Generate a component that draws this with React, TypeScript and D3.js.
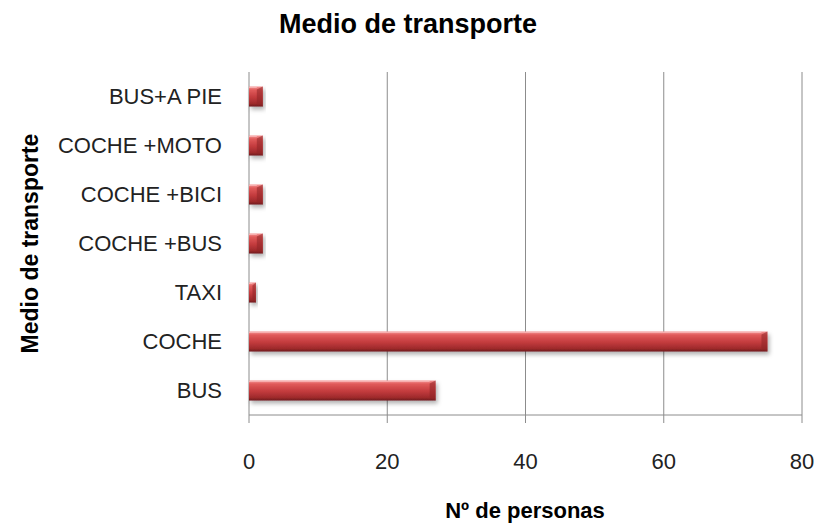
import * as d3 from "d3";

// categories top to bottom, as in the chart
const categories = ["BUS+A PIE", "COCHE +MOTO", "COCHE +BICI", "COCHE +BUS", "TAXI", "COCHE", "BUS"];
const personas = [2, 2, 2, 2, 1, 75, 27];
const xTicks = [0, 20, 40, 60, 80];

const W = 817;
const H = 525;
const margin = { top: 72, right: 15, bottom: 110, left: 249 };
const font = "'Liberation Sans', Arial, sans-serif";

const App = () => {
    const innerW = W - margin.left - margin.right;
    const innerH = H - margin.top - margin.bottom;

    const x = d3.scaleLinear().domain([0, 80]).range([0, innerW]);
    const y = d3
        .scaleBand()
        .domain(categories)
        .range([0, innerH])
        .paddingInner(0.59)
        .paddingOuter(0.295);

    const bh = y.bandwidth();

    return (
        <svg width={W} height={H} style={{ position: "absolute", left: 0, top: 0, background: "#fff" }}>
            <defs>
                <linearGradient id="barGrad" x1="0" y1="0" x2="0" y2="1">
                    <stop offset="0" stopColor="#f49a9a" />
                    <stop offset="0.18" stopColor="#e05a5a" />
                    <stop offset="0.55" stopColor="#c23a3c" />
                    <stop offset="0.85" stopColor="#9e2a2c" />
                    <stop offset="1" stopColor="#6e1a1b" />
                </linearGradient>
                <filter id="shadow" x="-10%" y="-30%" width="130%" height="190%">
                    <feDropShadow dx="2" dy="3" stdDeviation="2" floodColor="#000" floodOpacity="0.3" />
                </filter>
            </defs>

            <text
                x={408}
                y={33}
                textAnchor="middle"
                style={{ fontFamily: font, fontSize: 27, fontWeight: "bold" }}
            >
                Medio de transporte
            </text>

            <g transform={`translate(${margin.left},${margin.top})`}>
                {/* gridlines */}
                {xTicks.slice(1).map((t) => (
                    <line key={t} x1={x(t)} x2={x(t)} y1={0} y2={innerH + 8} stroke="#8c8c8c" strokeWidth={1} />
                ))}
                {/* x axis */}
                <line x1={0} x2={innerW} y1={innerH} y2={innerH} stroke="#8c8c8c" strokeWidth={1} />
                {/* y axis */}
                <line x1={0} x2={0} y1={0} y2={innerH + 8} stroke="#8c8c8c" strokeWidth={1} />

                {xTicks.map((t) => (
                    <text
                        key={t}
                        x={x(t)}
                        y={innerH + 54}
                        textAnchor="middle"
                        style={{ fontFamily: font, fontSize: 22, fill: "#222" }}
                    >
                        {t}
                    </text>
                ))}

                {categories.map((c, i) => {
                    const y0 = y(c);
                    const w = x(personas[i]);
                    const bev = Math.min(6, w / 2);
                    return (
                        <g key={c}>
                            <text
                                x={-27}
                                y={y0 + bh / 2}
                                dy="0.35em"
                                textAnchor="end"
                                style={{ fontFamily: font, fontSize: 22, fill: "#222" }}
                            >
                                {c}
                            </text>
                            <g filter="url(#shadow)">
                                <rect x={0} y={y0} width={w} height={bh} fill="url(#barGrad)" />
                            </g>
                            {/* bevelled right end */}
                            <polygon
                                points={`${w - bev},${y0 + 3} ${w},${y0} ${w},${y0 + bh} ${w - bev},${y0 + bh - 3}`}
                                fill="#8e2426"
                                opacity={0.55}
                            />
                            <line x1={0} x2={w - bev} y1={y0 + 1} y2={y0 + 1} stroke="#f7b0b0" strokeWidth={1} />
                        </g>
                    );
                })}
            </g>

            <text
                transform={`translate(30,${margin.top + innerH / 2}) rotate(-90)`}
                textAnchor="middle"
                dy="0.35em"
                style={{ fontFamily: font, fontSize: 23, fontWeight: "bold" }}
            >
                Medio de transporte
            </text>
            <text
                x={525}
                y={518}
                textAnchor="middle"
                style={{ fontFamily: font, fontSize: 22, fontWeight: "bold" }}
            >
                Nº de personas
            </text>
        </svg>
    );
};

export default App;
